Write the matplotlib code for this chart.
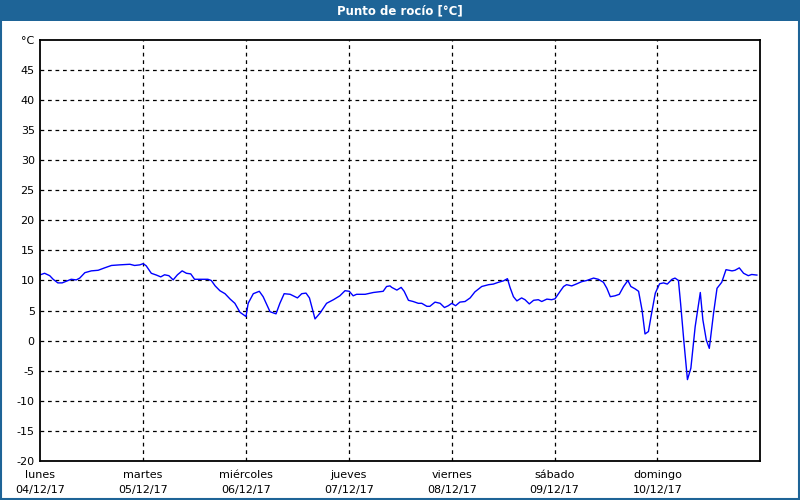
import matplotlib
matplotlib.use("Agg")
import matplotlib.pyplot as plt
from matplotlib.patches import Rectangle

# hours since Monday 04/12/17 00:00 and dew point in degC
hours = [0, 1.0, 2.2, 3.0, 4.1, 5.1, 6.5, 7.2, 8.4, 9.2, 10.4, 11.9, 13.5, 15.0, 16.6,
         18.5, 20.9, 22.0, 23.2, 24.0, 24.7, 25.9, 27.1, 28.1, 29.0, 30.0, 31.0, 32.0,
         33.1, 34.1, 35.1, 36.0, 37.6, 39.1, 39.9, 40.8, 41.9, 43.1, 44.3, 45.4, 46.6,
         47.4, 48.0, 48.5, 49.7, 51.1, 52.0, 53.6, 55.0, 55.9, 56.9, 58.3, 60.0, 61.0,
         62.0, 62.8, 64.1, 65.3, 66.8, 68.4, 69.9, 71.1, 72.1, 73.0, 73.8, 75.8, 77.7,
         80.0, 80.8, 81.6, 82.0, 83.2, 84.2, 84.9, 85.9, 87.0, 88.2, 89.0, 90.2, 90.9,
         92.1, 93.3, 94.3, 95.2, 96.0, 96.9, 97.9, 99.1, 100.3, 101.4, 103.0, 104.6,
         105.7, 106.9, 108.1, 109.0, 109.6, 110.4, 111.2, 112.3, 113.1, 114.1, 115.1,
         116.2, 117.0, 118.2, 119.3, 120.1, 121.3, 122.1, 122.8, 124.0, 125.2, 126.3,
         127.5, 129.1, 130.2, 131.4, 132.2, 133.0, 134.1, 135.1, 136.1, 137.1, 137.8,
         138.8, 139.6, 140.4, 141.1, 141.9, 142.5, 143.5, 144.5, 145.4, 146.3, 147.4,
         148.1, 148.9, 149.4, 150.2, 151.0, 151.8, 152.8, 154.0, 154.6, 155.4, 156.1,
         157.1, 157.9, 159.0, 160.0, 161.4, 162.1, 163.1, 164.1, 165.2, 166.0, 167.2]
dew = [10.95, 11.2, 10.8, 10.2, 9.6, 9.6, 10.0, 10.2, 10.1, 10.4, 11.3, 11.6, 11.7, 12.1, 12.5,
       12.6, 12.7, 12.5, 12.6, 12.8, 12.45, 11.2, 10.9, 10.6, 10.95, 10.8, 10.1, 10.95,
       11.6, 11.2, 11.1, 10.2, 10.2, 10.2, 10.0, 9.1, 8.3, 7.8, 6.9, 6.2, 4.7,
       4.3, 4.0, 6.2, 7.8, 8.2, 7.3, 4.8, 4.45, 6.2, 7.8, 7.7, 7.1, 7.8,
       7.9, 7.1, 3.6, 4.6, 6.2, 6.8, 7.45, 8.3, 8.2, 7.45, 7.7, 7.7, 8.0,
       8.2, 9.0, 9.1, 8.85, 8.4, 8.85, 8.2, 6.7, 6.5, 6.2, 6.2, 5.7, 5.7,
       6.4, 6.2, 5.5, 5.8, 6.2, 5.8, 6.4, 6.5, 7.1, 8.1, 9.0, 9.3,
       9.4, 9.7, 9.95, 10.3, 8.85, 7.3, 6.6, 7.1, 6.8, 6.1, 6.7,
       6.8, 6.5, 6.9, 6.8, 6.95, 8.2, 9.0, 9.3, 9.1, 9.45, 9.8,
       10.0, 10.4, 10.2, 9.7, 8.7, 7.3, 7.45, 7.7, 9.0, 10.0, 9.0,
       8.6, 8.2, 5.1, 1.1, 1.5, 4.0, 7.9, 9.45, 9.6, 9.4, 10.2,
       10.4, 10.0, 6.2, -0.4, -6.5, -4.6, 2.3, 8.0, 3.45, 0.1, -1.3,
       4.6, 8.7, 9.7, 11.8, 11.6, 11.7, 12.1, 11.2, 10.8, 11.0, 10.9]

days = ["lunes", "martes", "miércoles", "jueves", "viernes", "sábado", "domingo"]
dates = ["04/12/17", "05/12/17", "06/12/17", "07/12/17", "08/12/17", "09/12/17", "10/12/17"]
yticks = list(range(-20, 50, 5))

fig = plt.figure(figsize=(8, 5), dpi=100)
fig.patch.set_facecolor("white")

# title bar and blue frame
fig.patches.append(Rectangle((0, 1 - 21 / 500), 1, 21 / 500, transform=fig.transFigure,
                             facecolor="#1e6497", edgecolor="none"))
fig.patches.append(Rectangle((0.001, 0.002), 0.998, 0.996, transform=fig.transFigure,
                             facecolor="none", edgecolor="#1e6497", linewidth=1.5))
fig.text(0.5, 1 - 10.5 / 500, "Punto de rocío [°C]", color="white", fontsize=8.5,
         fontweight="bold", ha="center", va="center")

ax = fig.add_axes([40.3 / 800, 39.3 / 500, 720 / 800, 420.5 / 500])
x = [h / 24 for h in hours]
ax.plot(x, dew, color="#0000ff", linewidth=1)

ax.set_xlim(0, 7)
ax.set_ylim(-20, 50)
ax.set_yticks(yticks + [50])
ax.set_yticklabels([str(v) for v in yticks] + ["°C"])
ax.set_xticks(range(7))
ax.set_xticklabels([d + "\n" + t for d, t in zip(days, dates)], linespacing=1.6)
ax.tick_params(axis="both", length=0, labelsize=8, colors="black", pad=4)
ax.tick_params(axis="x", pad=7)

for v in yticks[1:]:
    ax.axhline(v, color="black", linestyle=(0, (3, 3)), linewidth=0.9, zorder=0)
for d in range(1, 7):
    ax.axvline(d, color="black", linestyle=(0, (3, 3)), linewidth=0.9, zorder=0)

for s in ax.spines.values():
    s.set_linewidth(1.3)
    s.set_color("black")

fig.savefig("out.png", dpi=100)
